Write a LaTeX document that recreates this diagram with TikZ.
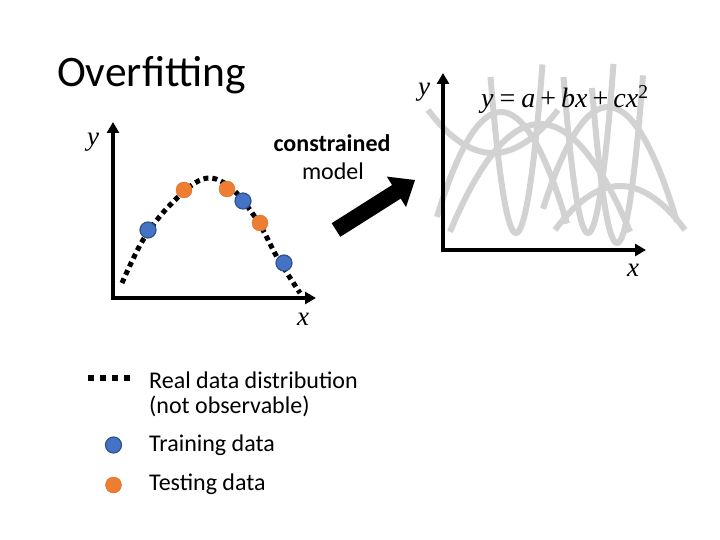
\documentclass[tikz,border=0pt]{standalone}
\usepackage{fontspec}
\setmainfont{Carlito}
\newfontfamily\eqfont{Liberation Serif}
\usetikzlibrary{arrows.meta}
\definecolor{curvegray}{RGB}{210,210,210}
\definecolor{trainblue}{RGB}{68,114,196}
\definecolor{trainedge}{RGB}{47,82,143}
\definecolor{testorange}{RGB}{237,125,49}
\begin{document}
\begin{tikzpicture}[x=1pt,y=-1pt,
  axisline/.style={line width=4pt,{Triangle[length=11pt,width=12pt]}-{Triangle[length=11pt,width=12pt]}},
  gcurve/.style={curvegray,line width=6pt},
  realdist/.style={line width=5pt,dash pattern=on 5pt off 4pt},
  traindot/.style={circle,inner sep=0pt,minimum size=16pt,fill=trainblue,draw=trainedge,line width=1.2pt},
  testdot/.style={circle,inner sep=0pt,minimum size=16pt,fill=testorange,draw=testorange!90!black,line width=0.4pt},
  lbl/.style={inner sep=0pt,font=\fontsize{24}{29}\selectfont},
  axlbl/.style={inner sep=0pt,font=\eqfont\fontsize{27}{30}\selectfont\itshape}]
\useasboundingbox (0,0) rectangle (720,540);

% title
\node[anchor=base west,inner sep=0pt,font=\fontsize{43.5}{52}\selectfont] (title) at (57,87) {Overfitting};

% ---------- left plot ----------
\coordinate (ly) at (113,122);
\coordinate (lo) at (113,298);
\coordinate (lx) at (316,298);
\draw[realdist] plot[smooth,tension=0.6] coordinates {(122,283) (143,240) (170,205) (203,179) (230,187) (257,220) (277,257) (300,293)};
\draw[axisline] (ly) -- (lo) -- (lx);
\node[axlbl] (lylab) at (93,142) {y};
\node[axlbl] (lxlab) at (303,319) {x};

\node[traindot] (b1) at (148,230) {};
\node[testdot]  (o1) at (184,190) {};
\node[testdot]  (o2) at (227,189) {};
\node[traindot] (b2) at (243,201) {};
\node[testdot]  (o3) at (260,223) {};
\node[traindot] (b3) at (284,263) {};

% ---------- arrow and caption ----------
\node[lbl,anchor=base,font=\fontsize{24}{29}\selectfont\bfseries] (cons) at (332,152) {constrained};
\node[lbl,anchor=base] (model) at (333,180) {model};
\fill[black] (331.7,223.2) -- (392.1,185) -- (386.8,176.6) -- (415,180) -- (406,207) -- (400.7,198.6) -- (340.3,236.8) -- cycle;

% ---------- right plot ----------
\draw[gcurve] plot[smooth,domain=-65:65,samples=40] ({493+\x},{153-0.0102*\x*\x});
\draw[gcurve] plot[smooth,domain=-64:66,samples=40] ({501+\x},{112+0.0256*\x*\x});
\draw[gcurve] plot[smooth,domain=-90:90,samples=40] ({540+\x},{124+0.0133*\x*\x});
\draw[gcurve] plot[smooth,domain=-25.5:26.5,samples=40] ({516+\x},{233-0.24*\x*\x});
\draw[gcurve] plot[smooth,domain=-24.5:25.5,samples=40] ({588+\x},{233-0.26*\x*\x});
\draw[gcurve] plot[smooth,domain=-25:26,samples=40] ({617+\x},{243-0.248*\x*\x});
\draw[gcurve] plot[smooth,domain=-65:69,samples=40] ({608+\x},{107+0.0241*\x*\x});
\draw[gcurve] plot[smooth,domain=-65:65,samples=40] ({620+\x},{186+0.0104*\x*\x});

\coordinate (ry) at (443,73);
\coordinate (ro) at (443,250);
\coordinate (rx) at (646,250);
\draw[axisline] (ry) -- (ro) -- (rx);
\node[axlbl] (rylab) at (424,92) {y};
\node[axlbl] (rxlab) at (633,270) {x};
\node[anchor=base west,inner sep=0pt,font=\eqfont\fontsize{28}{32}\selectfont] (eq) at (481,108)
  {\textit{y}\hspace{6pt}=\hspace{6pt}\textit{a}\hspace{5pt}+\hspace{5pt}\textit{bx}\hspace{5pt}+\hspace{5pt}\textit{cx}\textsuperscript{2}};

% ---------- legend ----------
\coordinate (ls) at (88,377.5);
\coordinate (le) at (130,377.5);
\draw[line width=6pt,dash pattern=on 6pt off 6pt] (ls) -- (le);
\node[lbl,anchor=base west] (l1) at (149,388) {Real data distribution};
\node[lbl,anchor=base west] (l1b) at (149,413) {(not observable)};
\node[traindot] (lb) at (113.5,445) {};
\node[lbl,anchor=base west] (l2) at (149,451) {Training data};
\node[testdot] (lo2) at (113.5,485) {};
\node[lbl,anchor=base west] (l3) at (149,490) {Testing data};
\end{tikzpicture}
\end{document}
